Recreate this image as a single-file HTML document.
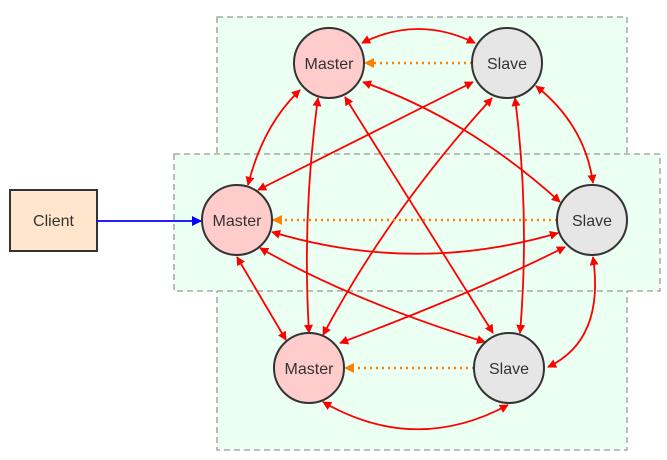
<!DOCTYPE html>
<html><head><meta charset="utf-8"><style>
html,body{margin:0;padding:0;background:#fff;}
svg{display:block;}
text{font-family:"Liberation Sans",sans-serif;font-size:16px;fill:#333;}
</style></head><body>
<svg width="667" height="460" viewBox="0 0 667 460" xmlns="http://www.w3.org/2000/svg">
<defs>
<marker id="r" viewBox="0 0 10 10" refX="9" refY="5" markerWidth="9" markerHeight="9" orient="auto-start-reverse" markerUnits="userSpaceOnUse"><path d="M0,0 L10,5 L0,10 z" fill="#ff0000"/></marker>
<marker id="o" viewBox="0 0 10 10" refX="9" refY="5" markerWidth="10" markerHeight="10" orient="auto" markerUnits="userSpaceOnUse"><path d="M0,0 L10,5 L0,10 z" fill="#ff8000"/></marker>
<marker id="b" viewBox="0 0 10 10" refX="9" refY="5" markerWidth="10" markerHeight="10" orient="auto" markerUnits="userSpaceOnUse"><path d="M0,0 L10,5 L0,10 z" fill="#0000ff"/></marker>
</defs>
<rect x="217" y="17" width="410" height="433" fill="#ebfff3" stroke="#999" stroke-dasharray="6 4" stroke-width="1.3"/>
<rect x="174" y="154" width="486" height="137" fill="#ebfff3" stroke="#999" stroke-dasharray="6 4" stroke-width="1.3"/>
<rect x="10" y="190" width="87" height="61" fill="#ffe6cc" stroke="#333" stroke-width="2"/>
<text x="53.5" y="226" text-anchor="middle">Client</text>
<line x1="97" y1="221" x2="201" y2="221" stroke="#0000ff" stroke-width="1.8" marker-end="url(#b)"/>
<g fill="none" stroke="#ff0000" stroke-width="1.8" marker-start="url(#r)" marker-end="url(#r)">
<path d="M362,43 Q418,15 475,43"/>
<path d="M300,90 Q263,125 248,185"/>
<path d="M318,98 Q302,215 309,333"/>
<path d="M345,97 L493,333"/>
<path d="M363,82 Q470,120 560,202"/>
<path d="M473,82 L258,190"/>
<path d="M492,98 Q390,210 323,335"/>
<path d="M515,98 Q530,215 520,333"/>
<path d="M536,86 Q585,125 593,183"/>
<path d="M272,232 Q415,275 558,233"/>
<path d="M237,257 L286,340"/>
<path d="M260,248 Q350,300 485,342"/>
<path d="M565,247 Q480,290 340,343"/>
<path d="M593,257 Q605,340 548,367"/>
<path d="M323,402 Q415,455 508,405"/>
</g>
<g fill="none" stroke="#ff8000" stroke-width="2.4" stroke-dasharray="2 4" marker-end="url(#o)">
<line x1="472" y1="63" x2="365" y2="63"/>
<line x1="557" y1="220" x2="273" y2="220"/>
<line x1="474" y1="368" x2="345" y2="368"/>
</g>
<g stroke="#333" stroke-width="2">
<circle cx="329" cy="63" r="35" fill="#ffcccc"/>
<circle cx="507" cy="63" r="35" fill="#e6e6e6"/>
<circle cx="237" cy="220" r="35" fill="#ffcccc"/>
<circle cx="592" cy="220" r="35" fill="#e6e6e6"/>
<circle cx="309" cy="368" r="35" fill="#ffcccc"/>
<circle cx="509" cy="368" r="35" fill="#e6e6e6"/>
</g>
<text x="329" y="69" text-anchor="middle">Master</text>
<text x="507" y="69" text-anchor="middle">Slave</text>
<text x="237" y="226" text-anchor="middle">Master</text>
<text x="592" y="226" text-anchor="middle">Slave</text>
<text x="309" y="374" text-anchor="middle">Master</text>
<text x="509" y="374" text-anchor="middle">Slave</text>
</svg>
</body></html>
